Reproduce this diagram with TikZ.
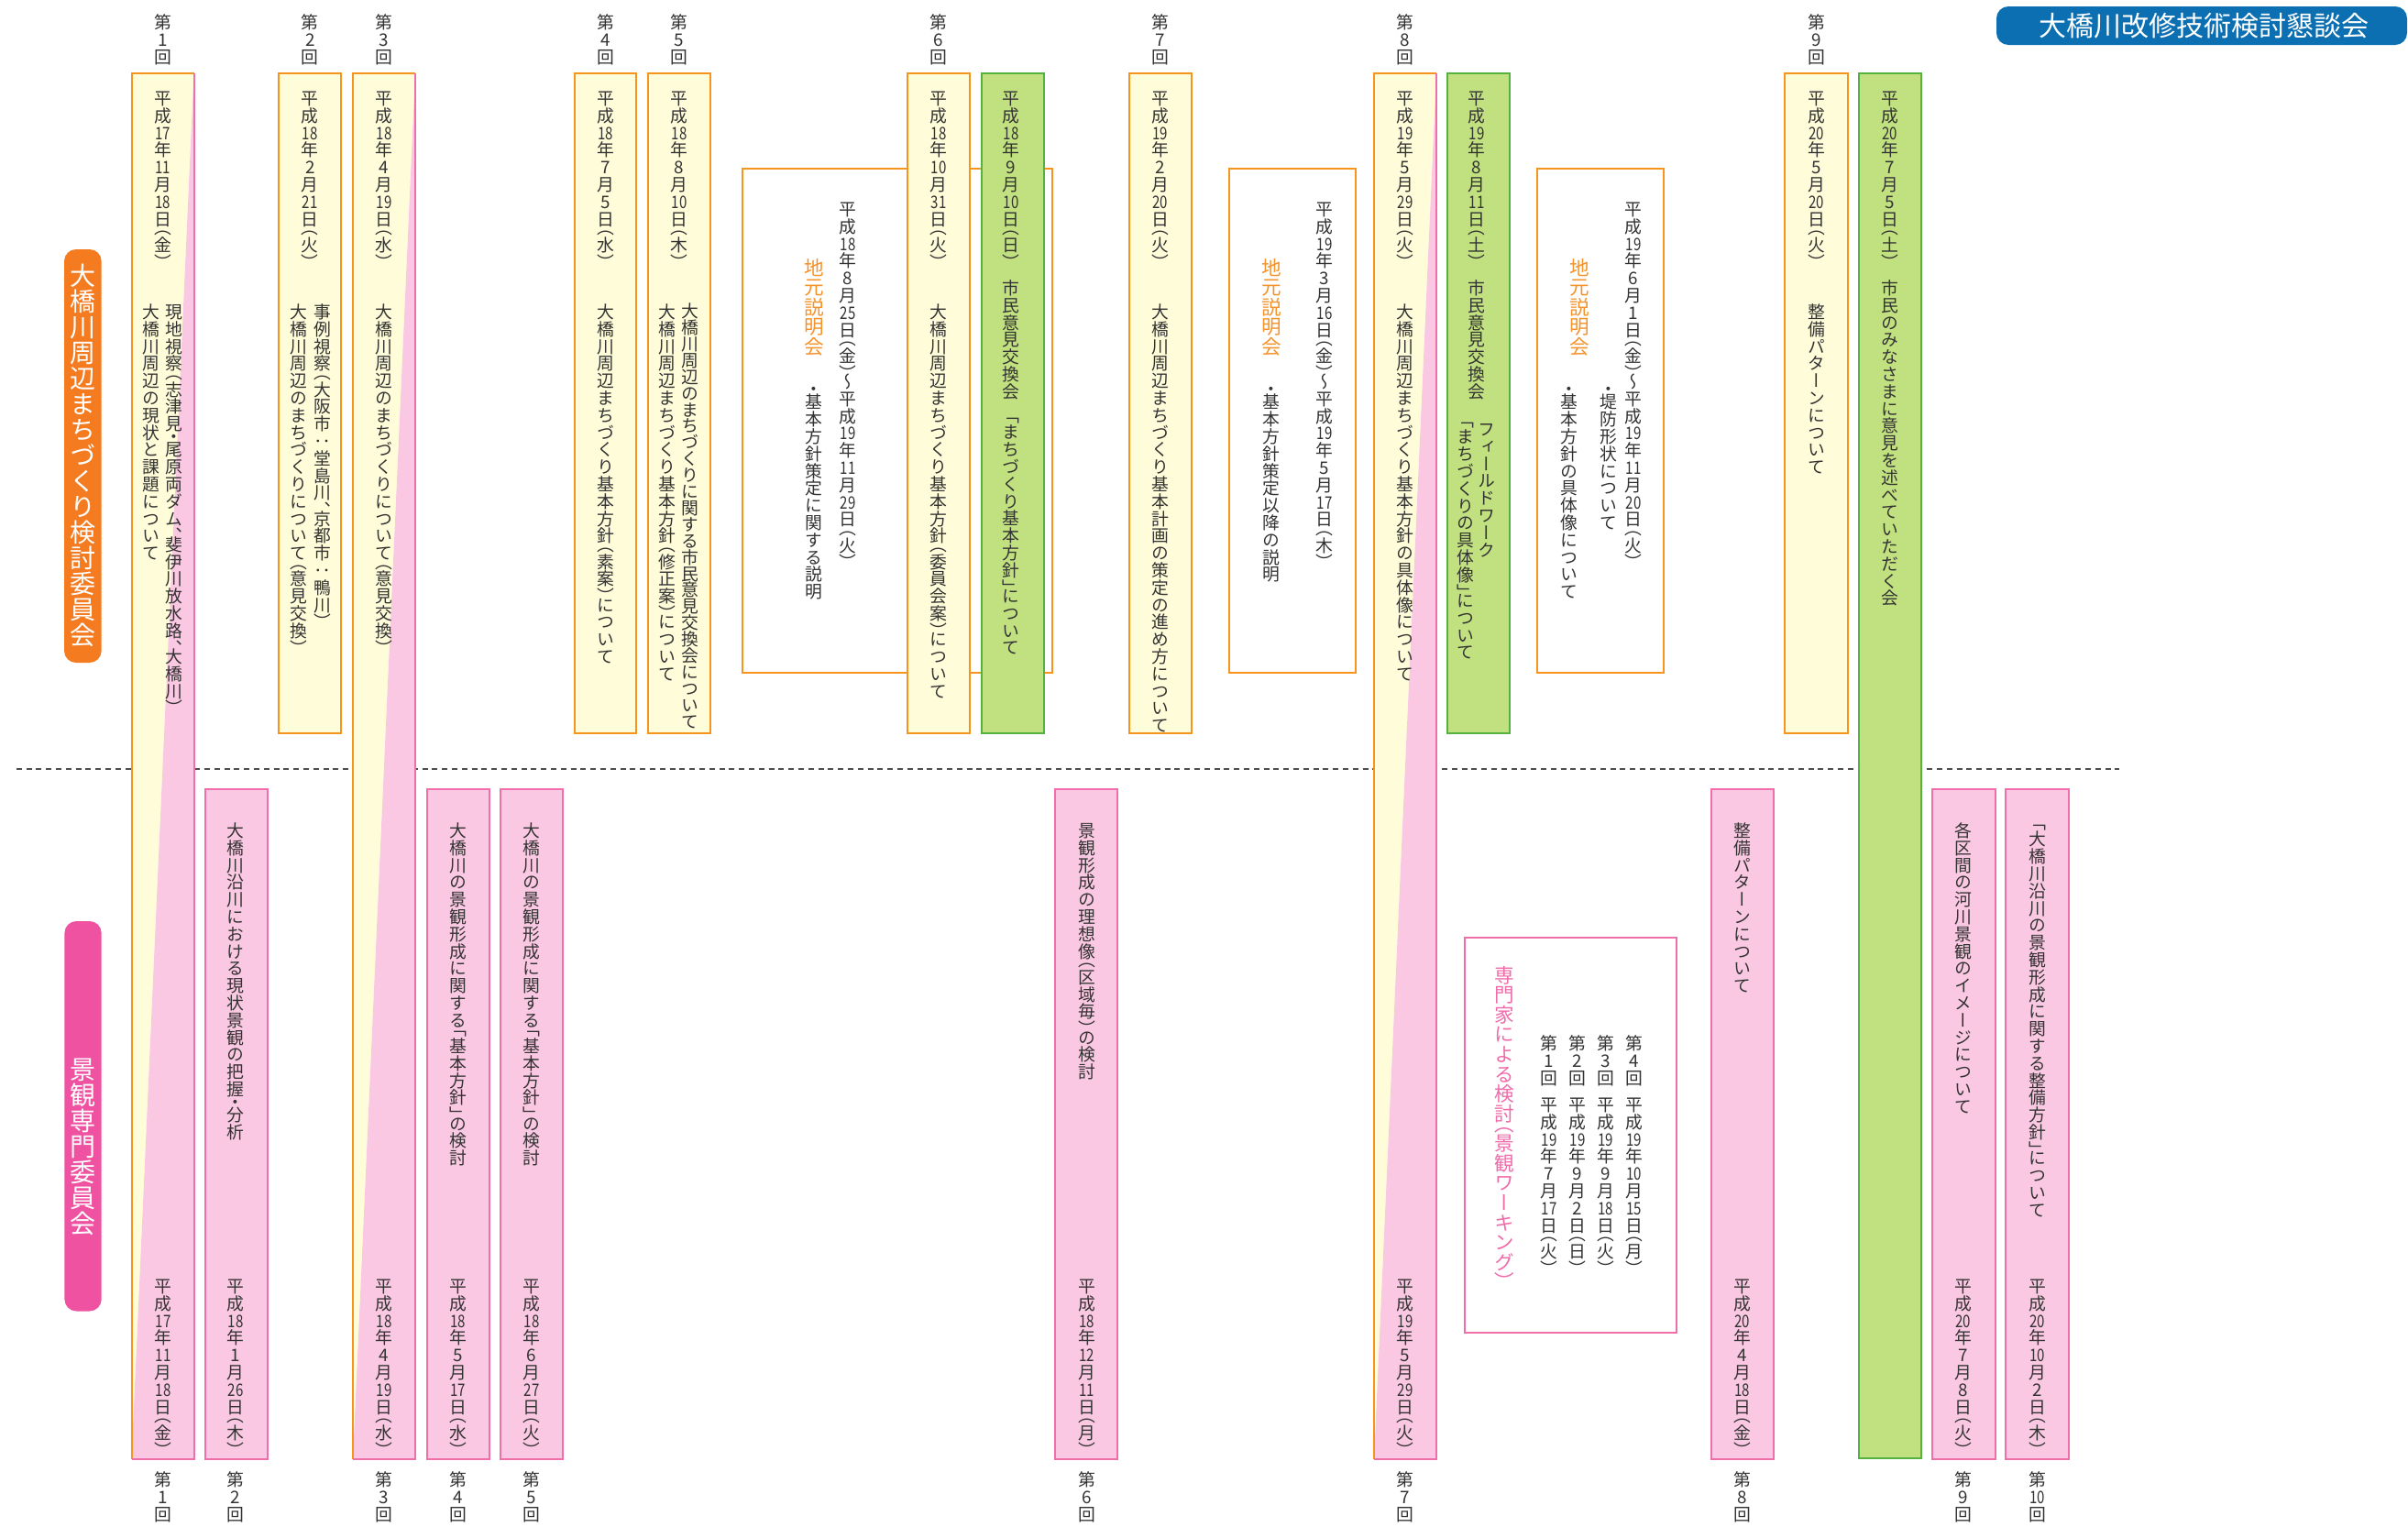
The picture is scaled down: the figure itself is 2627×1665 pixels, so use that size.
\documentclass[tikz,border=0pt]{standalone}
\usepackage{fontspec}
\usepackage{graphicx}
\newfontfamily\vjp[RawFeature=+vert]{Noto Sans CJK JP}
\newfontfamily\hjp{Noto Sans CJK JP}
\newdimen\vtpitch
% one cell of vertical text: #1 cell height (in pitch units), #2 baseline raise, #3 glyph
\newcommand\vtcell[3]{\hbox to 1em{\vrule width 0pt height #1\vtpitch depth 0pt\hss\raisebox{#2}[0pt][0pt]{#3}\hss}}
\ExplSyntaxOn
\cs_new_protected:Npn \__vt_cell:n #1
  {
    \str_case:nnF {#1}
      {
        {（}{\vtcell{.5}{.12em}{#1}}
        {「}{\vtcell{.5}{.12em}{#1}}
        {）}{\vtcell{.5}{-.38em}{#1}}
        {」}{\vtcell{.5}{-.38em}{#1}}
        {、}{\vtcell{.5}{-.38em}{#1}}
        {・}{\vtcell{.5}{-.13em}{#1}}
      }
      {
        \int_compare:nNnTF { \str_count:n {#1} } > { 1 }
          { \vtcell{1}{.12em}{\scalebox{.8}[1]{#1}} }
          { \vtcell{1}{.12em}{#1} }
      }
  }
\NewDocumentCommand \vt { O{1} m }
  {
    \vbox:n
      {
        \offinterlineskip
        \dim_set:Nn \vtpitch { #1 em }
        \tl_map_inline:nn {#2} { \__vt_cell:n {##1} }
      }
  }
\ExplSyntaxOff
\definecolor{ink}{HTML}{333333}
\definecolor{yfill}{HTML}{FFFCD9}
\definecolor{oline}{HTML}{F7941D}
\definecolor{pfill}{HTML}{FAC8E2}
\definecolor{pline}{HTML}{F06EAA}
\definecolor{gfill}{HTML}{C1E07F}
\definecolor{gline}{HTML}{56B240}
\definecolor{opill}{HTML}{F47B20}
\definecolor{ppill}{HTML}{F052A2}
\definecolor{bpill}{HTML}{0B6FB2}
\definecolor{otitle}{HTML}{F5922A}
\definecolor{ptitle}{HTML}{EF6CAB}
\newcommand\splitcol[4]{%
  \fill[yfill] (#1,#3) -- (#2,#3) -- (#1,#4) -- cycle;
  \fill[pfill] (#2,#3) -- (#2,#4) -- (#1,#4) -- cycle;
  \draw[oline,line width=1pt] (#1,#4) -- (#1,#3) -- (#2,#3);
  \draw[pline,line width=1pt] (#2,#3) -- (#2,#4) -- (#1,#4);}
\begin{document}
\begin{tikzpicture}[x=0.5pt,y=-0.5pt,
  vtxt/.style={anchor=north,inner sep=0pt,outer sep=0pt,text=ink,font=\vjp\fontsize{9.4pt}{9.4pt}\selectfont},
  vbig/.style={vtxt,font=\vjp\fontsize{10.8pt}{10.8pt}\selectfont},
  vpill/.style={vtxt,text=white,font=\vjp\fontsize{14pt}{14pt}\selectfont},
  ybox/.style={fill=yfill,draw=oline,line width=1pt},
  pbox/.style={fill=pfill,draw=pline,line width=1pt},
  gbox/.style={fill=gfill,draw=gline,line width=1pt},
  obox/.style={fill=white,draw=oline,line width=1pt},
  wbox/.style={fill=white,draw=pline,line width=1pt}]
\useasboundingbox (0,0) rectangle (2627,1665);
\fill[white] (0,0) rectangle (2627,1665);

% divider between the two committees
\draw[black!70,line width=0.9pt,dash pattern=on 3pt off 2.4pt] (17.8,839) -- (2312,839);

% title and side labels
\fill[bpill,rounded corners=6.5pt] (2178,7) rectangle (2626,49);
\node[inner sep=0pt,text=white,font=\hjp\fontsize{15pt}{15pt}\selectfont] (title) at (2404,28.5) {大橋川改修技術検討懇談会};
\fill[opill,rounded corners=6.5pt] (70,272) rectangle (110.7,723);
\node[vpill] (lblA) at (90.4,286.5) {\vt{大橋川周辺まちづくり検討委員会}};
\fill[ppill,rounded corners=6.5pt] (70.4,1005) rectangle (110.7,1430.5);
\node[vpill] (lblB) at (90.5,1153) {\vt{景観専門委員会}};

% briefing boxes (behind the columns)
\draw[obox] (810,184) rectangle (1148.3,734);
\draw[obox] (1340.7,184) rectangle (1478.7,734);
\draw[obox] (1676.7,184) rectangle (1815,734);
\draw[wbox] (1597.8,1023) rectangle (1829.3,1454);

% committee meetings (top row)
\splitcol{143.5}{211.5}{80}{1591.5}
\draw[ybox] (304,80) rectangle (372,800);
\splitcol{385}{453}{80}{1591.5}
\draw[ybox] (627,80) rectangle (694.3,800);
\draw[ybox] (707.3,80) rectangle (775.3,800);
\draw[ybox] (990,80) rectangle (1058.3,800);
\draw[gbox] (1070.7,80) rectangle (1139,800);
\draw[ybox] (1231.7,80) rectangle (1300,800);
\splitcol{1499}{1567}{80}{1591.5}
\draw[gbox] (1579.3,80) rectangle (1647.3,800);
\draw[ybox] (1947.3,80) rectangle (2015.7,800);
\draw[gbox] (2027.5,80) rectangle (2096,1591);

% landscape committee meetings (bottom row)
\draw[pbox] (224.2,860.5) rectangle (291.8,1591.5);
\draw[pbox] (466,860.5) rectangle (533.5,1591.5);
\draw[pbox] (546,860.5) rectangle (614,1591.5);
\draw[pbox] (1151.4,860.5) rectangle (1218.6,1591.5);
\draw[pbox] (1866.7,860.5) rectangle (1935,1591.5);
\draw[pbox] (2108.3,860.5) rectangle (2176.7,1591.5);
\draw[pbox] (2188.3,860.5) rectangle (2256.7,1591.5);

% meeting numbers, top
\node[vtxt] (tn1) at (177.7,15) {\vt{第1回}};
\node[vtxt] (tn2) at (338.3,15) {\vt{第2回}};
\node[vtxt] (tn3) at (419,15) {\vt{第3回}};
\node[vtxt] (tn4) at (660.5,15) {\vt{第4回}};
\node[vtxt] (tn5) at (741,15) {\vt{第5回}};
\node[vtxt] (tn6) at (1024,15) {\vt{第6回}};
\node[vtxt] (tn7) at (1265.7,15) {\vt{第7回}};
\node[vtxt] (tn8) at (1533,15) {\vt{第8回}};
\node[vtxt] (tn9) at (1981.7,15) {\vt{第9回}};

% dates, top
\node[vtxt] (td1) at (177.5,98) {\vt{平成{17}年{11}月{18}日（金）}};
\node[vtxt] (td2) at (338.3,98) {\vt{平成{18}年2月{21}日（火）}};
\node[vtxt] (td3) at (419,98) {\vt{平成{18}年4月{19}日（水）}};
\node[vtxt] (td4) at (660.5,98) {\vt{平成{18}年7月5日（水）}};
\node[vtxt] (td5) at (741,98) {\vt{平成{18}年8月{10}日（木）}};
\node[vtxt] (td6) at (1024.3,98) {\vt{平成{18}年{10}月{31}日（火）}};
\node[vtxt] (tg1) at (1103,98) {\vt{平成{18}年9月{10}日（日）}};
\node[vtxt] (td7) at (1265.7,98) {\vt{平成{19}年2月{20}日（火）}};
\node[vtxt] (td8) at (1533,98) {\vt{平成{19}年5月{29}日（火）}};
\node[vtxt] (tg2) at (1611,98) {\vt{平成{19}年8月{11}日（土）}};
\node[vtxt] (td9) at (1981.7,98) {\vt{平成{20}年5月{20}日（火）}};
\node[vtxt] (tg3) at (2061.7,98) {\vt{平成{20}年7月5日（土）}};

% agenda, top
\node[vtxt] (ta1a) at (190,331) {\vt{現地視察（志津見・尾原両ダム、斐伊川放水路、大橋川）}};
\node[vtxt] (ta1b) at (165,331) {\vt{大橋川周辺の現状と課題について}};
\node[vtxt] (ta2a) at (351.7,331) {\vt{事例視察（大阪市：堂島川、京都市：鴨川）}};
\node[vtxt] (ta2b) at (326,331) {\vt{大橋川周辺のまちづくりについて（意見交換）}};
\node[vtxt] (ta3) at (419,331) {\vt{大橋川周辺のまちづくりについて（意見交換）}};
\node[vtxt] (ta4) at (660.5,331) {\vt{大橋川周辺まちづくり基本方針（素案）について}};
\node[vtxt] (ta5a) at (753.3,331) {\vt[.952]{大橋川周辺のまちづくりに関する市民意見交換会について}};
\node[vtxt] (ta5b) at (728.3,331) {\vt{大橋川周辺まちづくり基本方針（修正案）について}};
\node[vtxt] (ta6) at (1024.3,331) {\vt{大橋川周辺まちづくり基本方針（委員会案）について}};
\node[vtxt] (tg1a) at (1103,305) {\vt{市民意見交換会}};
\node[vtxt] (tg1b) at (1103,453) {\vt{「まちづくり基本方針」について}};
\node[vtxt] (ta7) at (1265.7,331) {\vt{大橋川周辺まちづくり基本計画の策定の進め方について}};
\node[vtxt] (ta8) at (1533,331) {\vt{大橋川周辺まちづくり基本方針の具体像について}};
\node[vtxt] (tg2a) at (1611,305) {\vt{市民意見交換会}};
\node[vtxt] (tg2b) at (1621.7,459) {\vt{フィールドワーク}};
\node[vtxt] (tg2c) at (1599,458) {\vt{「まちづくりの具体像」について}};
\node[vtxt] (ta9) at (1981.7,331) {\vt{整備パターンについて}};
\node[vtxt] (tg3a) at (2061.7,305) {\vt{市民のみなさまに意見を述べていただく会}};

% local briefings
\node[vtxt] (j1d) at (925,219) {\vt{平成{18}年8月{25}日（金）〜平成{19}年{11}月{29}日（火）}};
\node[vbig,text=otitle] (j1t) at (888,281) {\vt{地元説明会}};
\node[vtxt] (j1a) at (888,420) {\vt{・基本方針策定に関する説明}};
\node[vtxt] (j2d) at (1445,219) {\vt{平成{19}年3月{16}日（金）〜平成{19}年5月{17}日（木）}};
\node[vbig,text=otitle] (j2t) at (1387,281) {\vt{地元説明会}};
\node[vtxt] (j2a) at (1387,420) {\vt{・基本方針策定以降の説明}};
\node[vtxt] (j3d) at (1782,219) {\vt{平成{19}年6月1日（金）〜平成{19}年{11}月{20}日（火）}};
\node[vbig,text=otitle] (j3t) at (1723,281) {\vt{地元説明会}};
\node[vtxt] (j3a) at (1755,420) {\vt{・堤防形状について}};
\node[vtxt] (j3b) at (1712,420) {\vt{・基本方針の具体像について}};

% landscape working group
\node[vbig,text=ptitle] (wgt) at (1641,1053) {\vt{専門家による検討（景観ワーキング）}};
\node[vtxt] (wn4) at (1782.7,1129) {\vt{第4回}};
\node[vtxt] (wd4) at (1782.7,1196) {\vt{平成{19}年{10}月{15}日（月）}};
\node[vtxt] (wn3) at (1751.7,1129) {\vt{第3回}};
\node[vtxt] (wd3) at (1751.7,1196) {\vt{平成{19}年9月{18}日（火）}};
\node[vtxt] (wn2) at (1721,1129) {\vt{第2回}};
\node[vtxt] (wd2) at (1721,1196) {\vt{平成{19}年9月2日（日）}};
\node[vtxt] (wn1) at (1690,1129) {\vt{第1回}};
\node[vtxt] (wd1) at (1690,1196) {\vt{平成{19}年7月{17}日（火）}};

% agenda, bottom
\node[vtxt] (ba2) at (257,897) {\vt{大橋川沿川における現状景観の把握・分析}};
\node[vtxt] (ba4) at (499.4,897) {\vt{大橋川の景観形成に関する「基本方針」の検討}};
\node[vtxt] (ba5) at (580,897) {\vt{大橋川の景観形成に関する「基本方針」の検討}};
\node[vtxt] (ba6) at (1185.4,897) {\vt{景観形成の理想像（区域毎）の検討}};
\node[vtxt] (ba8) at (1900.7,897) {\vt{整備パターンについて}};
\node[vtxt] (ba9) at (2141.7,897) {\vt{各区間の河川景観のイメージについて}};
\node[vtxt] (ba10) at (2222.7,897) {\vt{「大橋川沿川の景観形成に関する整備方針」について}};

% dates, bottom
\node[vtxt] (bd1) at (178,1394) {\vt{平成{17}年{11}月{18}日（金）}};
\node[vtxt] (bd2) at (257,1394) {\vt{平成{18}年1月{26}日（木）}};
\node[vtxt] (bd3) at (419,1394) {\vt{平成{18}年4月{19}日（水）}};
\node[vtxt] (bd4) at (499.4,1394) {\vt{平成{18}年5月{17}日（水）}};
\node[vtxt] (bd5) at (580,1394) {\vt{平成{18}年6月{27}日（火）}};
\node[vtxt] (bd6) at (1185.4,1394) {\vt{平成{18}年{12}月{11}日（月）}};
\node[vtxt] (bd7) at (1533,1394) {\vt{平成{19}年5月{29}日（火）}};
\node[vtxt] (bd8) at (1900.7,1394) {\vt{平成{20}年4月{18}日（金）}};
\node[vtxt] (bd9) at (2141.7,1394) {\vt{平成{20}年7月8日（火）}};
\node[vtxt] (bd10) at (2222.7,1394) {\vt{平成{20}年{10}月2日（木）}};

% meeting numbers, bottom
\node[vtxt] (bn1) at (178,1605) {\vt{第1回}};
\node[vtxt] (bn2) at (257,1605) {\vt{第2回}};
\node[vtxt] (bn3) at (419,1605) {\vt{第3回}};
\node[vtxt] (bn4) at (499.4,1605) {\vt{第4回}};
\node[vtxt] (bn5) at (580,1605) {\vt{第5回}};
\node[vtxt] (bn6) at (1185.4,1605) {\vt{第6回}};
\node[vtxt] (bn7) at (1533,1605) {\vt{第7回}};
\node[vtxt] (bn8) at (1900.7,1605) {\vt{第8回}};
\node[vtxt] (bn9) at (2141.7,1605) {\vt{第9回}};
\node[vtxt] (bn10) at (2222.7,1605) {\vt{第{10}回}};
\end{tikzpicture}
\end{document}
